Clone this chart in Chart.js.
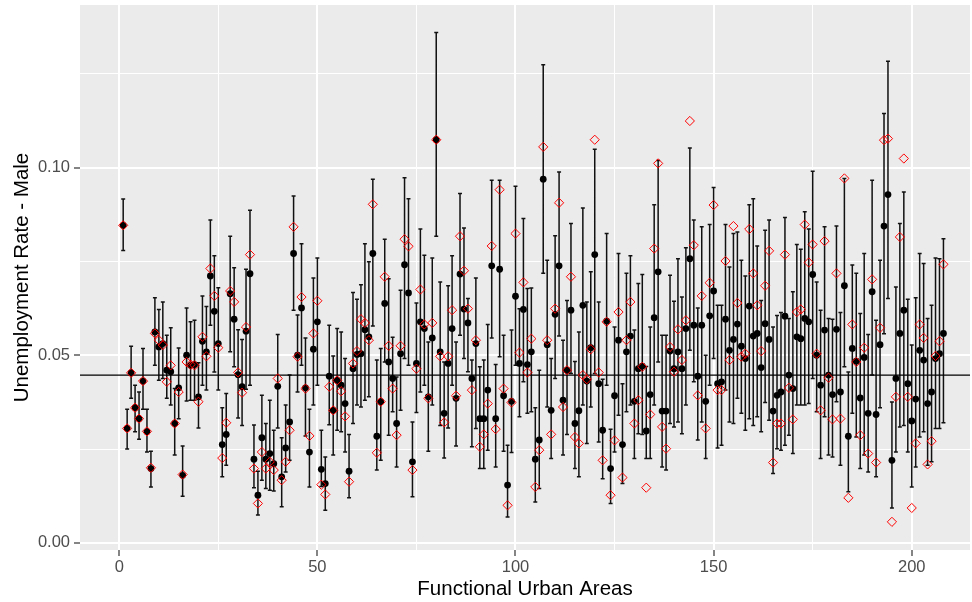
<!DOCTYPE html>
<html>
<head>
<meta charset="utf-8">
<script src="https://cdn.jsdelivr.net/npm/chart.js@4.4.1/dist/chart.umd.min.js"></script>
<style>
html,body{margin:0;padding:0;background:#ffffff;}
#wrap{width:972px;height:602px;}
</style>
</head>
<body>
<div id="wrap"><canvas id="c" width="972" height="602"></canvas></div>
<script>
// Unemployment rate (male) per functional urban area: point estimate, interval, alternative estimate
const meanRate = [0.0846,0.0305,0.0453,0.0360,0.0331,0.0431,0.0296,0.0198,0.0562,0.0522,
 0.0531,0.0460,0.0456,0.0318,0.0413,0.0180,0.0500,0.0473,0.0475,0.0389,
 0.0537,0.0509,0.0711,0.0617,0.0531,0.0262,0.0289,0.0664,0.0596,0.0448,
 0.0416,0.0564,0.0717,0.0223,0.0127,0.0280,0.0223,0.0238,0.0211,0.0417,
 0.0176,0.0253,0.0322,0.0771,0.0500,0.0626,0.0413,0.0242,0.0516,0.0589,
 0.0196,0.0158,0.0444,0.0353,0.0433,0.0420,0.0371,0.0191,0.0464,0.0502,
 0.0504,0.0568,0.0549,0.0771,0.0284,0.0376,0.0638,0.0482,0.0438,0.0318,
 0.0504,0.0741,0.0666,0.0216,0.0478,0.0589,0.0571,0.0389,0.0546,0.1074,
 0.0509,0.0345,0.0478,0.0571,0.0385,0.0716,0.0623,0.0586,0.0438,0.0531,
 0.0331,0.0331,0.0407,0.0738,0.0331,0.0729,0.0392,0.0154,0.0377,0.0657,
 0.0478,0.0622,0.0475,0.0509,0.0223,0.0274,0.0969,0.0528,0.0353,0.0609,
 0.0738,0.0380,0.0460,0.0620,0.0318,0.0352,0.0633,0.0431,0.0520,0.0768,
 0.0424,0.0300,0.0591,0.0198,0.0392,0.0540,0.0262,0.0509,0.0551,0.0377,
 0.0464,0.0471,0.0298,0.0395,0.0600,0.0722,0.0351,0.0351,0.0511,0.0464,
 0.0509,0.0464,0.0571,0.0757,0.0580,0.0444,0.0580,0.0377,0.0605,0.0671,
 0.0424,0.0429,0.0596,0.0513,0.0542,0.0583,0.0524,0.0491,0.0631,0.0551,
 0.0558,0.0467,0.0584,0.0542,0.0351,0.0393,0.0402,0.0604,0.0447,0.0411,
 0.0549,0.0544,0.0598,0.0589,0.0715,0.0500,0.0420,0.0567,0.0447,0.0395,
 0.0569,0.0402,0.0685,0.0284,0.0518,0.0484,0.0386,0.0494,0.0345,0.0669,
 0.0342,0.0528,0.0844,0.0928,0.0220,0.0438,0.0558,0.0620,0.0424,0.0325,
 0.0383,0.0513,0.0487,0.0371,0.0402,0.0491,0.0504,0.0558];

const lowerCI = [0.0779,0.0250,0.0385,0.0296,0.0276,0.0356,0.0242,0.0149,0.0473,0.0433,
 0.0438,0.0385,0.0367,0.0234,0.0331,0.0124,0.0378,0.0380,0.0380,0.0306,
 0.0420,0.0407,0.0580,0.0455,0.0407,0.0176,0.0207,0.0509,0.0469,0.0333,
 0.0313,0.0409,0.0420,0.0147,0.0074,0.0167,0.0145,0.0140,0.0138,0.0306,
 0.0096,0.0189,0.0220,0.0620,0.0402,0.0473,0.0285,0.0149,0.0367,0.0420,
 0.0150,0.0087,0.0315,0.0234,0.0300,0.0296,0.0242,0.0120,0.0318,0.0367,
 0.0362,0.0380,0.0389,0.0578,0.0194,0.0220,0.0482,0.0287,0.0349,0.0202,
 0.0353,0.0491,0.0473,0.0123,0.0347,0.0402,0.0420,0.0244,0.0367,0.0817,
 0.0313,0.0226,0.0306,0.0420,0.0258,0.0553,0.0491,0.0456,0.0256,0.0305,
 0.0198,0.0198,0.0247,0.0546,0.0202,0.0496,0.0244,0.0069,0.0241,0.0473,
 0.0336,0.0429,0.0345,0.0349,0.0109,0.0145,0.0718,0.0362,0.0225,0.0438,
 0.0551,0.0234,0.0289,0.0451,0.0198,0.0176,0.0367,0.0265,0.0362,0.0451,
 0.0269,0.0171,0.0420,0.0105,0.0242,0.0340,0.0158,0.0349,0.0367,0.0225,
 0.0291,0.0289,0.0225,0.0225,0.0367,0.0482,0.0202,0.0194,0.0318,0.0309,
 0.0322,0.0291,0.0367,0.0513,0.0429,0.0274,0.0322,0.0225,0.0420,0.0491,
 0.0253,0.0260,0.0407,0.0322,0.0318,0.0385,0.0345,0.0300,0.0331,0.0313,
 0.0336,0.0296,0.0374,0.0327,0.0185,0.0251,0.0247,0.0260,0.0287,0.0238,
 0.0367,0.0367,0.0367,0.0371,0.0438,0.0349,0.0225,0.0336,0.0234,0.0229,
 0.0376,0.0207,0.0469,0.0136,0.0345,0.0282,0.0198,0.0234,0.0189,0.0447,
 0.0176,0.0360,0.0557,0.0651,0.0093,0.0242,0.0309,0.0313,0.0242,0.0149,
 0.0202,0.0282,0.0296,0.0207,0.0216,0.0305,0.0305,0.0320];

const upperCI = [0.0916,0.0356,0.0524,0.0420,0.0402,0.0518,0.0356,0.0244,0.0653,0.0622,
 0.0642,0.0553,0.0573,0.0411,0.0519,0.0258,0.0626,0.0589,0.0593,0.0480,
 0.0658,0.0630,0.0860,0.0765,0.0680,0.0360,0.0398,0.0817,0.0733,0.0568,
 0.0542,0.0729,0.0886,0.0314,0.0191,0.0393,0.0318,0.0380,0.0300,0.0555,
 0.0280,0.0367,0.0447,0.0924,0.0607,0.0797,0.0546,0.0356,0.0706,0.0759,
 0.0300,0.0229,0.0580,0.0498,0.0571,0.0562,0.0491,0.0289,0.0667,0.0649,
 0.0688,0.0797,0.0749,0.0969,0.0487,0.0518,0.0809,0.0704,0.0548,0.0442,
 0.0673,0.0973,0.0917,0.0322,0.0639,0.0836,0.0766,0.0535,0.0759,0.1360,
 0.0695,0.0482,0.0685,0.0765,0.0535,0.0931,0.0839,0.0651,0.0487,0.0706,
 0.0469,0.0487,0.0582,0.0966,0.0475,0.0966,0.0553,0.0260,0.0567,0.0950,
 0.0624,0.0864,0.0678,0.0679,0.0360,0.0460,0.1274,0.0753,0.0491,0.0818,
 0.0988,0.0540,0.0646,0.0851,0.0483,0.0562,0.0892,0.0642,0.0722,0.1049,
 0.0642,0.0436,0.0824,0.0303,0.0575,0.0771,0.0424,0.0718,0.0765,0.0567,
 0.0691,0.0715,0.0470,0.0575,0.0901,0.1019,0.0553,0.0553,0.0713,0.0644,
 0.0757,0.0655,0.0786,0.1052,0.0860,0.0626,0.0842,0.0500,0.0848,0.0947,
 0.0633,0.0633,0.0848,0.0735,0.0824,0.0828,0.0753,0.0711,0.0901,0.0917,
 0.0791,0.0646,0.0833,0.0860,0.0575,0.0606,0.0614,0.0867,0.0598,0.0669,
 0.0795,0.0782,0.0882,0.0836,0.0990,0.0695,0.0620,0.0842,0.0598,0.0596,
 0.0844,0.0614,0.0971,0.0455,0.0740,0.0718,0.0611,0.0771,0.0555,0.0966,
 0.0593,0.0753,0.1144,0.1283,0.0375,0.0682,0.0851,0.0935,0.0649,0.0527,
 0.0653,0.0771,0.0744,0.0598,0.0633,0.0759,0.0757,0.0810];

const altRate = [0.0846,0.0305,0.0453,0.0360,0.0331,0.0431,0.0297,0.0200,0.0558,0.0540,
 0.0527,0.0429,0.0473,0.0318,0.0402,0.0182,0.0482,0.0475,0.0473,0.0376,
 0.0549,0.0497,0.0731,0.0658,0.0520,0.0226,0.0320,0.0671,0.0642,0.0454,
 0.0400,0.0575,0.0768,0.0198,0.0105,0.0242,0.0198,0.0216,0.0194,0.0438,
 0.0167,0.0216,0.0300,0.0842,0.0496,0.0655,0.0411,0.0285,0.0558,0.0645,
 0.0155,0.0129,0.0416,0.0353,0.0433,0.0404,0.0337,0.0163,0.0478,0.0511,
 0.0596,0.0586,0.0540,0.0902,0.0240,0.0376,0.0709,0.0525,0.0411,0.0287,
 0.0525,0.0809,0.0790,0.0194,0.0464,0.0675,0.0582,0.0385,0.0586,0.1074,
 0.0497,0.0321,0.0497,0.0620,0.0392,0.0817,0.0725,0.0624,0.0407,0.0540,
 0.0256,0.0289,0.0371,0.0791,0.0303,0.0941,0.0411,0.0100,0.0374,0.0824,
 0.0507,0.0694,0.0454,0.0544,0.0149,0.0247,0.1055,0.0540,0.0289,0.0624,
 0.0906,0.0362,0.0460,0.0709,0.0282,0.0265,0.0447,0.0436,0.0516,0.1074,
 0.0454,0.0220,0.0589,0.0127,0.0273,0.0615,0.0174,0.0540,0.0642,0.0318,
 0.0380,0.0469,0.0147,0.0342,0.0784,0.1011,0.0309,0.0251,0.0522,0.0456,
 0.0569,0.0487,0.0593,0.1124,0.0793,0.0393,0.0658,0.0305,0.0693,0.0900,
 0.0407,0.0407,0.0751,0.0487,0.0844,0.0639,0.0496,0.0504,0.0836,0.0718,
 0.0633,0.0511,0.0685,0.0778,0.0214,0.0318,0.0318,0.0768,0.0413,0.0329,
 0.0615,0.0622,0.0848,0.0747,0.0795,0.0504,0.0353,0.0804,0.0440,0.0329,
 0.0718,0.0331,0.0971,0.0120,0.0582,0.0482,0.0287,0.0520,0.0238,0.0702,
 0.0214,0.0573,0.1073,0.1077,0.0056,0.0389,0.0815,0.1024,0.0389,0.0093,
 0.0265,0.0582,0.0546,0.0209,0.0271,0.0498,0.0537,0.0742];

const overallRate = 0.0447;
const fuaIndex = meanRate.map((_, i) => i + 1);

const xTickValues = [0, 25, 50, 75, 100, 125, 150, 175, 200];
const xTickLabels = ['0', '50', '100', '150', '200'];
const yTickValues = [0, 0.025, 0.05, 0.075, 0.1, 0.125];
const yTickLabels = ['0.00', '0.05', '0.10'];

const X_MIN = -9.9, X_MAX = 214.7, Y_MIN = -0.0019, Y_MAX = 0.1433;
const CAP = 0.5;
const FONT = '"Liberation Sans", Arial, Helvetica, sans-serif';

const isMajorX = v => Math.abs(v % 50) < 1e-9;
const isMajorY = v => Math.abs(v / 0.05 - Math.round(v / 0.05)) < 1e-6;

// error bar path built from the interval arrays (gaps split segments)
const errPath = [];
fuaIndex.forEach((x, i) => {
  const lo = lowerCI[i], hi = upperCI[i];
  errPath.push({x: x - CAP, y: hi}, {x: x + CAP, y: hi}, {x: x + CAP, y: null});
  errPath.push({x: x, y: hi}, {x: x, y: lo}, {x: x, y: null});
  errPath.push({x: x - CAP, y: lo}, {x: x + CAP, y: lo}, {x: x + CAP, y: null});
});

const panelBg = {
  id: 'panelBg',
  beforeDraw(chart) {
    const {ctx, chartArea: a} = chart;
    ctx.save();
    ctx.fillStyle = '#EBEBEB';
    ctx.fillRect(a.left, a.top, a.right - a.left, a.bottom - a.top);
    ctx.restore();
  }
};

const zeroPad = s => { s.paddingTop = 0; s.paddingBottom = 0; s.paddingLeft = 0; s.paddingRight = 0; };

new Chart(document.getElementById('c'), {
  type: 'scatter',
  data: {
    datasets: [
      {
        type: 'line', data: errPath, borderColor: '#111111', borderWidth: 1.5,
        pointRadius: 0, spanGaps: false, tension: 0, fill: false, order: 5,
        borderCapStyle: 'butt'
      },
      {
        type: 'line', data: [{x: X_MIN, y: overallRate}, {x: X_MAX, y: overallRate}],
        borderColor: '#000000', borderWidth: 1.3, pointRadius: 0, fill: false, order: 4
      },
      {
        data: fuaIndex.map((x, i) => ({x, y: meanRate[i]})),
        pointStyle: 'circle', pointRadius: 3.4, backgroundColor: '#000000',
        borderWidth: 0, order: 3
      },
      {
        data: fuaIndex.map((x, i) => ({x, y: altRate[i]})),
        pointStyle: 'rectRot', pointRadius: 4.6, backgroundColor: 'rgba(0,0,0,0)',
        borderColor: '#FF0000', borderWidth: 1, order: 2
      }
    ]
  },
  options: {
    responsive: false,
    animation: false,
    events: [],
    layout: {autoPadding: false, padding: {top: 5, right: 2, left: 0, bottom: 0}},
    plugins: {legend: {display: false}, tooltip: {enabled: false}},
    scales: {
      x: {
        type: 'linear', min: X_MIN, max: X_MAX, offset: false,
        afterBuildTicks: s => { s.ticks = xTickValues.map(v => ({value: v})); },
        afterFit: s => { s.height = 52; zeroPad(s); },
        border: {display: false},
        grid: {
          offset: false,
          color: '#FFFFFF',
          lineWidth: c => (c.tick && isMajorX(c.tick.value)) ? 2 : 1,
          drawTicks: true, tickLength: 6, tickWidth: 1.2,
          tickColor: c => (c.tick && isMajorX(c.tick.value)) ? '#333333' : 'rgba(0,0,0,0)'
        },
        ticks: {
          autoSkip: false, maxRotation: 0, padding: 2,
          color: '#4D4D4D', font: {family: FONT, size: 16.5},
          callback: v => isMajorX(v) ? xTickLabels[Math.round(v / 50)] : ''
        },
        title: {
          display: true, text: 'Functional Urban Areas', color: '#000000',
          font: {family: FONT, size: 20.5}, padding: {top: 0, bottom: 0}
        }
      },
      y: {
        type: 'linear', min: Y_MIN, max: Y_MAX,
        afterBuildTicks: s => { s.ticks = yTickValues.map(v => ({value: v})); },
        afterFit: s => { s.width = 80; zeroPad(s); },
        border: {display: false},
        grid: {
          color: '#FFFFFF',
          lineWidth: c => (c.tick && isMajorY(c.tick.value)) ? 2 : 1,
          drawTicks: true, tickLength: 6, tickWidth: 1.2,
          tickColor: c => (c.tick && isMajorY(c.tick.value)) ? '#333333' : 'rgba(0,0,0,0)'
        },
        ticks: {
          autoSkip: false, padding: 4,
          color: '#4D4D4D', font: {family: FONT, size: 16.5},
          callback: v => isMajorY(v) ? yTickLabels[Math.round(v / 0.05)] : ''
        },
        title: {
          display: true, text: 'Unemployment Rate - Male', color: '#000000',
          font: {family: FONT, size: 20.5}, padding: {top: 10, bottom: 0}
        }
      }
    }
  },
  plugins: [panelBg]
});
</script>
</body>
</html>
